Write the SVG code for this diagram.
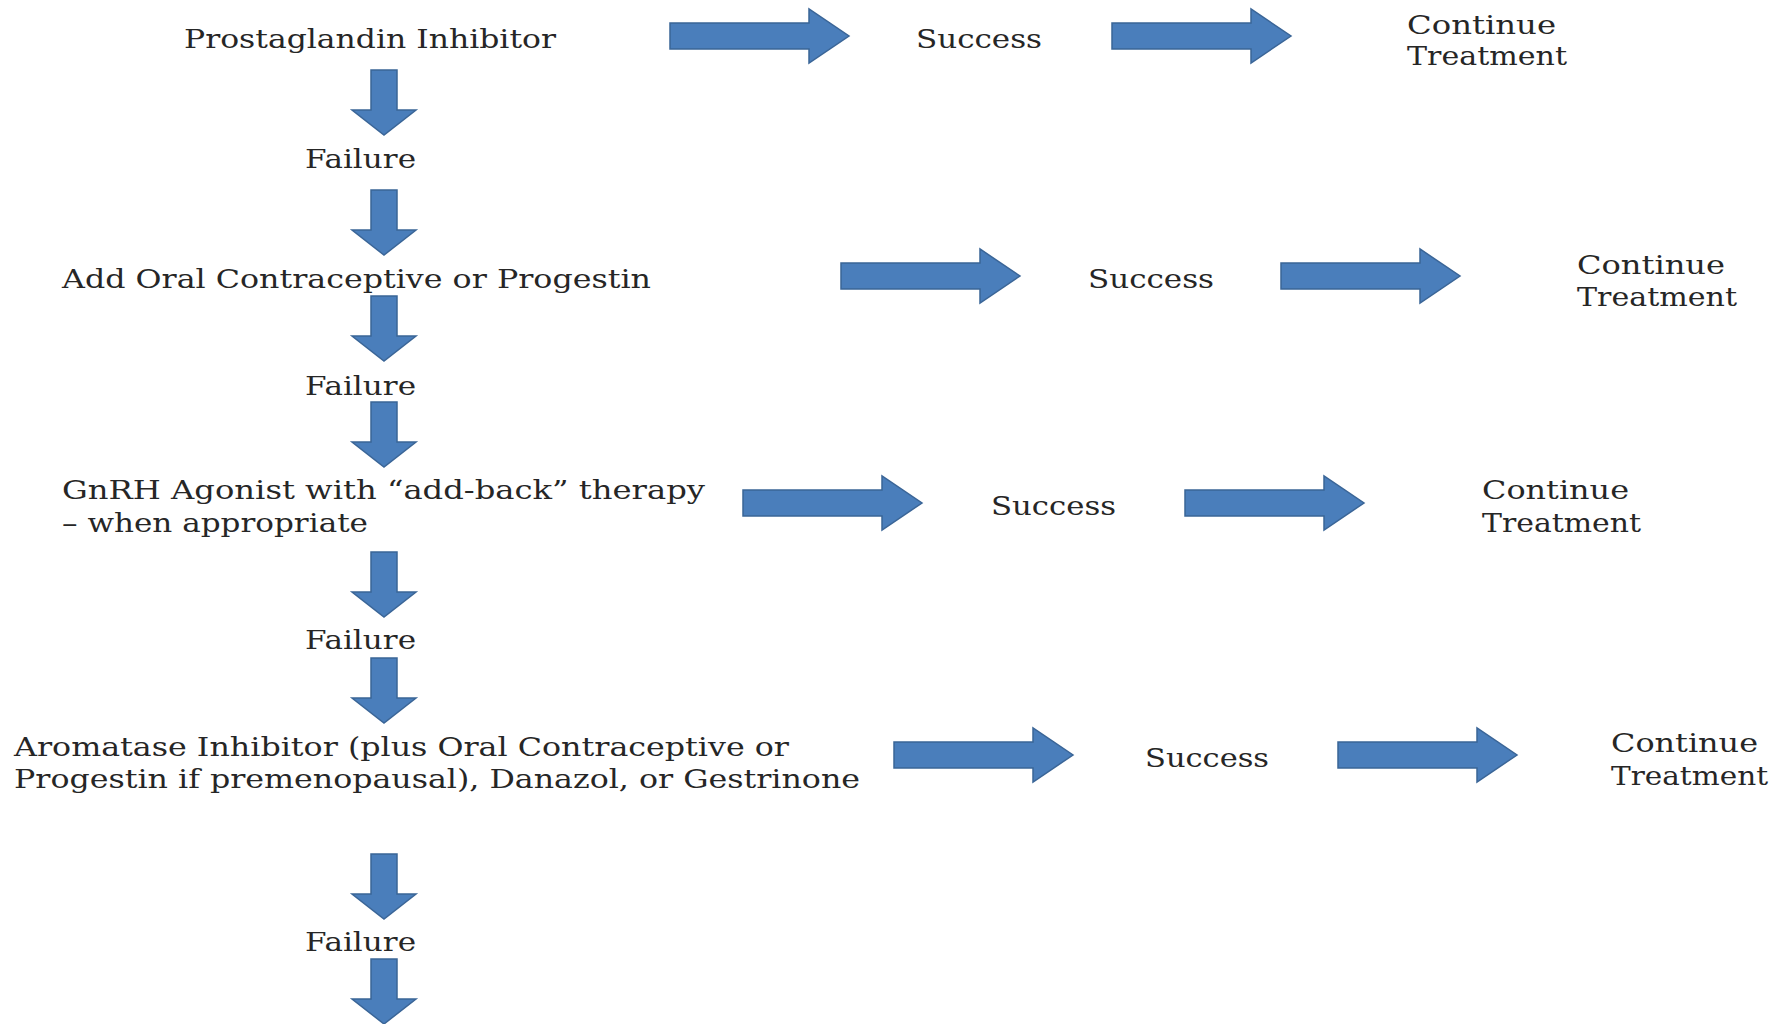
<svg xmlns="http://www.w3.org/2000/svg" xmlns:xlink="http://www.w3.org/1999/xlink" width="1774" height="1024" viewBox="0 0 1774 1024">
<style>
text{font-family:"DejaVu Serif","Liberation Serif",serif;font-size:26px;fill:#262626;}
.arr{fill:#4a7ebb;stroke:#3a6597;stroke-width:1.5;stroke-linejoin:miter;}
</style>
<defs>
<path id="down" class="arr" d="M-13,0 H13 V40 H32 L0,65 L-32,40 H-13 Z"/>
<path id="right" class="arr" d="M0,-13 H139 V-27 L179,0 L139,27 V13 H0 Z"/>
</defs>
<rect width="1774" height="1024" fill="#ffffff"/>
<g id="connectors">
<use xlink:href="#down" x="384" y="70"/>
<use xlink:href="#down" x="384" y="190"/>
<use xlink:href="#down" x="384" y="296"/>
<use xlink:href="#down" x="384" y="402"/>
<use xlink:href="#down" x="384" y="552"/>
<use xlink:href="#down" x="384" y="658"/>
<use xlink:href="#down" x="384" y="854"/>
<use xlink:href="#down" x="384" y="959"/>
<use xlink:href="#right" x="670" y="36"/>
<use xlink:href="#right" x="1112" y="36"/>
<use xlink:href="#right" x="841" y="276"/>
<use xlink:href="#right" x="1281" y="276"/>
<use xlink:href="#right" x="743" y="503"/>
<use xlink:href="#right" x="1185" y="503"/>
<use xlink:href="#right" x="894" y="755"/>
<use xlink:href="#right" x="1338" y="755"/>
</g>
<g id="prostaglandin"><text x="184" y="48" textLength="372" lengthAdjust="spacingAndGlyphs">Prostaglandin Inhibitor</text></g>
<g id="success1"><text x="916" y="48" textLength="126" lengthAdjust="spacingAndGlyphs">Success</text></g>
<g id="continue1"><text x="1407" y="34" textLength="149" lengthAdjust="spacingAndGlyphs">Continue</text><text x="1407" y="65" textLength="160" lengthAdjust="spacingAndGlyphs">Treatment</text></g>
<g id="failure1"><text x="305" y="168" textLength="111" lengthAdjust="spacingAndGlyphs">Failure</text></g>
<g id="oral"><text x="62" y="288" textLength="589" lengthAdjust="spacingAndGlyphs">Add Oral Contraceptive or Progestin</text></g>
<g id="success2"><text x="1088" y="288" textLength="126" lengthAdjust="spacingAndGlyphs">Success</text></g>
<g id="continue2"><text x="1577" y="274" textLength="148" lengthAdjust="spacingAndGlyphs">Continue</text><text x="1577" y="306" textLength="160" lengthAdjust="spacingAndGlyphs">Treatment</text></g>
<g id="failure2"><text x="305" y="395" textLength="111" lengthAdjust="spacingAndGlyphs">Failure</text></g>
<g id="gnrh"><text x="62" y="499" textLength="643" lengthAdjust="spacingAndGlyphs">GnRH Agonist with “add-back” therapy</text><text x="62" y="532" textLength="306" lengthAdjust="spacingAndGlyphs">– when appropriate</text></g>
<g id="success3"><text x="991" y="515" textLength="125" lengthAdjust="spacingAndGlyphs">Success</text></g>
<g id="continue3"><text x="1482" y="499" textLength="147" lengthAdjust="spacingAndGlyphs">Continue</text><text x="1482" y="532" textLength="159" lengthAdjust="spacingAndGlyphs">Treatment</text></g>
<g id="failure3"><text x="305" y="649" textLength="111" lengthAdjust="spacingAndGlyphs">Failure</text></g>
<g id="aromatase"><text x="14" y="756" textLength="775" lengthAdjust="spacingAndGlyphs">Aromatase Inhibitor (plus Oral Contraceptive or</text><text x="14" y="788" textLength="846" lengthAdjust="spacingAndGlyphs">Progestin if premenopausal), Danazol, or Gestrinone</text></g>
<g id="success4"><text x="1145" y="767" textLength="124" lengthAdjust="spacingAndGlyphs">Success</text></g>
<g id="continue4"><text x="1611" y="752" textLength="147" lengthAdjust="spacingAndGlyphs">Continue</text><text x="1611" y="785" textLength="157" lengthAdjust="spacingAndGlyphs">Treatment</text></g>
<g id="failure4"><text x="305" y="951" textLength="111" lengthAdjust="spacingAndGlyphs">Failure</text></g>
</svg>
